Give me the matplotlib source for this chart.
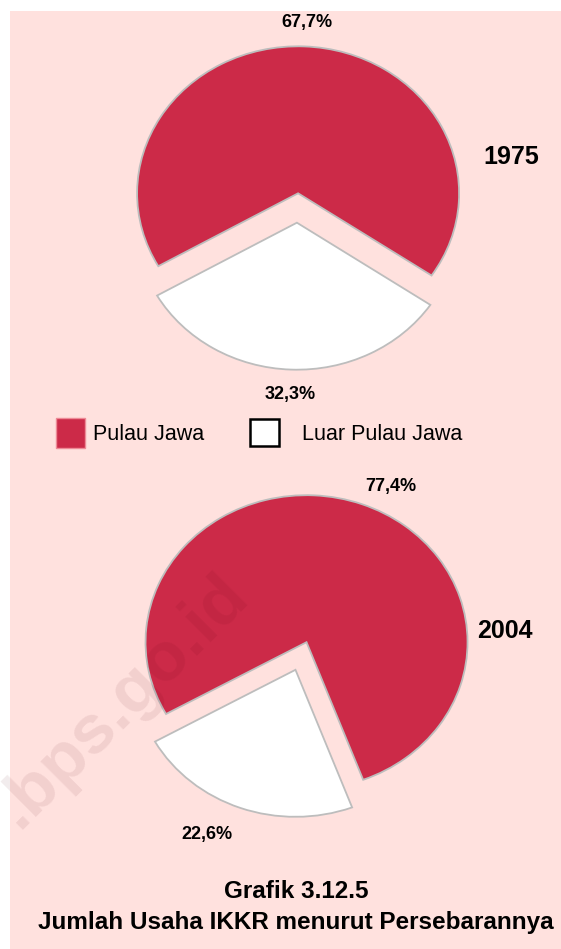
import matplotlib
matplotlib.use("Agg")
import matplotlib.pyplot as plt
from matplotlib.patches import Rectangle

plt.rcParams['font.family'] = ['Liberation Sans', 'DejaVu Sans']

# ---- data -------------------------------------------------------------
categories = ["Pulau Jawa", "Luar Pulau Jawa"]
years = ["1975", "2004"]
shares_1975 = [67.7, 32.3]
shares_2004 = [77.4, 22.6]
title_lines = ["Grafik 3.12.5", "Jumlah Usaha IKKR menurut Persebarannya"]
watermark = ".bps.go.id"

# ---- style ------------------------------------------------------------
W, H = 561, 949
PINK = "#FFE1DE"
RED = "#CC2A48"
EDGE = "#BDBDBD"
colors = [RED, "white"]

fig = plt.figure(figsize=(W / 100, H / 100), dpi=100)
fig.patch.set_facecolor("white")

# canvas axes in pixel units (y grows downward)
bg = fig.add_axes([0, 0, 1, 1])
bg.set_xlim(0, W)
bg.set_ylim(H, 0)
bg.axis("off")
bg.add_patch(Rectangle((10, 11), W - 10, H - 11, facecolor=PINK,
                       edgecolor="none", zorder=0))


def fmt(v):
    return f"{v:.1f}%".replace(".", ",")


def draw_pie(values, cx, cy, rx, ry, start):
    """Slightly flattened exploded pie centred at pixel (cx, cy)."""
    pad = 1.3
    ax = fig.add_axes([(cx - pad * rx) / W, (H - cy - pad * ry) / H,
                       2 * pad * rx / W, 2 * pad * ry / H])
    ax.pie(values, colors=colors, startangle=start, counterclock=True,
           explode=(0.1, 0.1), radius=1.0,
           wedgeprops=dict(edgecolor=EDGE, linewidth=1.3))
    ax.set_aspect("auto")
    ax.set_xlim(-pad, pad)
    ax.set_ylim(-pad, pad)
    ax.axis("off")
    ax.patch.set_alpha(0)
    return ax


draw_pie(shares_1975, 297.5, 208, 161, 147, -34)
draw_pie(shares_2004, 301, 656, 161, 147, -69.4)

# value labels
lab = dict(fontsize=13, fontweight="bold", ha="center", va="center",
           color="black")
bg.text(307, 22, fmt(shares_1975[0]), **lab)
bg.text(290, 394, fmt(shares_1975[1]), **lab)
bg.text(391, 486, fmt(shares_2004[0]), **lab)
bg.text(207, 834, fmt(shares_2004[1]), **lab)

# year labels
yr = dict(fontsize=18, fontweight="bold", ha="center", va="center",
          color="black")
bg.text(511, 157, years[0], **yr)
bg.text(505, 631, years[1], **yr)

# legend
bg.add_patch(Rectangle((56, 418), 29, 30, facecolor=RED,
                       edgecolor="#EE8A96", linewidth=1.0, zorder=2))
bg.add_patch(Rectangle((250, 419), 29, 27, facecolor="white",
                       edgecolor="black", linewidth=1.8, zorder=2))
bg.text(93, 435, categories[0], fontsize=15.5, ha="left", va="center")
bg.text(302, 435, categories[1], fontsize=15.5, ha="left", va="center")

# caption
bg.text(296, 891, title_lines[0], fontsize=17.5, fontweight="bold",
        ha="center", va="center")
bg.text(296, 922, title_lines[1], fontsize=17.5, fontweight="bold",
        ha="center", va="center")

# faint diagonal watermark over everything
fig.text(250 / W, 1 - 598 / H, watermark, fontsize=50, fontweight="bold",
         rotation=45, rotation_mode="anchor", ha="right", va="baseline",
         color="#5a0010", alpha=0.08, zorder=10)

fig.savefig("out.png", dpi=100, facecolor=fig.get_facecolor())
